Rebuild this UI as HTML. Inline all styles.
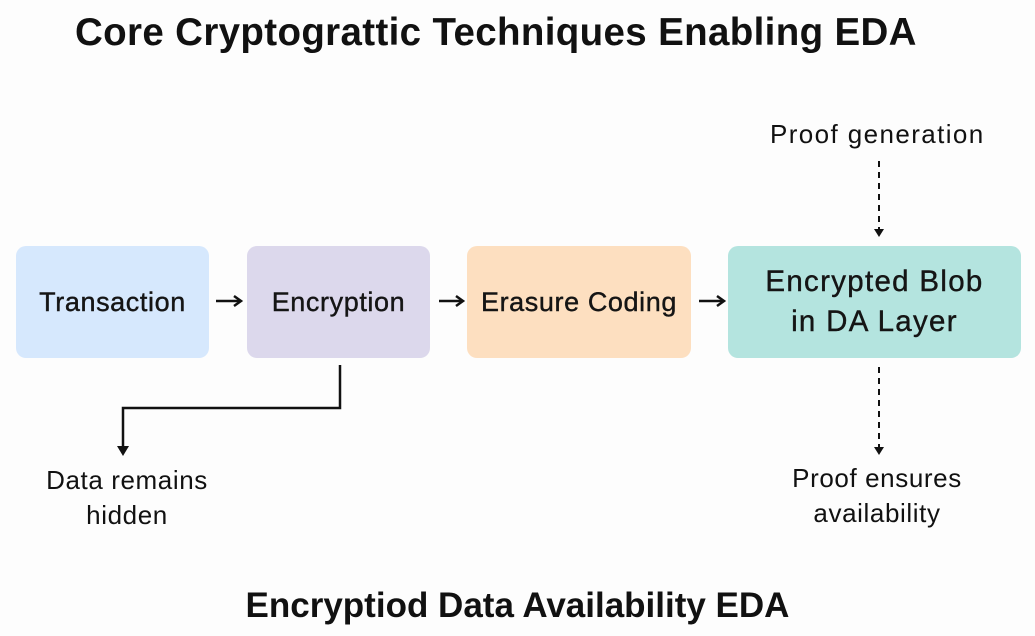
<!DOCTYPE html>
<html><head><style>
body{margin:0;width:1035px;height:636px;background:#fdfdfd;position:relative;overflow:hidden;font-family:"Liberation Sans",sans-serif;color:#111}
.t{position:absolute;white-space:nowrap}
.box{position:absolute;border-radius:10px;display:flex;align-items:center;justify-content:center;text-align:center;font-size:27px;letter-spacing:0.6px;line-height:40px;color:#151515;-webkit-text-stroke:0.4px #151515}
</style></head><body>
<div class="t" style="left:75px;top:11px;font-size:38.5px;font-weight:bold;letter-spacing:0.35px">Core Cryptograttic Techniques Enabling EDA</div>
<div class="box" style="left:16px;top:246px;width:193px;height:112px;background:#d6e8fd">Transaction</div>
<div class="box" style="left:247px;top:246px;width:183px;height:112px;background:#dcd8ec">Encryption</div>
<div class="box" style="left:467px;top:246px;width:224px;height:112px;background:#fddfc0">Erasure Coding</div>
<div class="box" style="left:728px;top:246px;width:293px;height:112px;background:#b4e4df;font-size:29.5px;letter-spacing:1.3px">Encrypted Blob<br>in DA Layer</div>
<div class="t" style="left:770px;top:119px;font-size:26px;letter-spacing:1.4px">Proof generation</div>
<div class="t" style="left:0;width:254px;top:463px;font-size:26px;letter-spacing:0.6px;text-align:center;line-height:35px">Data remains<br>hidden</div>
<div class="t" style="left:747px;width:260px;top:461px;font-size:26px;letter-spacing:0.6px;text-align:center;line-height:35px">Proof ensures<br>availability</div>
<div class="t" style="left:0;width:1035px;top:586px;font-size:35px;font-weight:bold;text-align:center;">Encryptiod Data Availability EDA</div>
<svg width="1035" height="636" style="position:absolute;left:0;top:0">
<g stroke="#111" stroke-width="2.5" fill="none">
<line x1="216" y1="301" x2="240" y2="301"/>
<polyline points="234,296 241,301 234,306"/>
<line x1="439" y1="301" x2="462" y2="301"/>
<polyline points="456,296 463,301 456,306"/>
<line x1="699" y1="301" x2="723" y2="301"/>
<polyline points="717,296 724,301 717,306"/>
<polyline points="340,365 340,408 123,408 123,447"/>
</g>
<g fill="#111">
<polygon points="123,456 117,446 129,446"/>
<polygon points="879,237 874,229 884,229"/>
<polygon points="879,455 874,447 884,447"/>
</g>
<g stroke="#111" stroke-width="2" stroke-dasharray="6,5">
<line x1="879" y1="161" x2="879" y2="229"/>
<line x1="879" y1="367" x2="879" y2="447"/>
</g>
</svg>
</body></html>
